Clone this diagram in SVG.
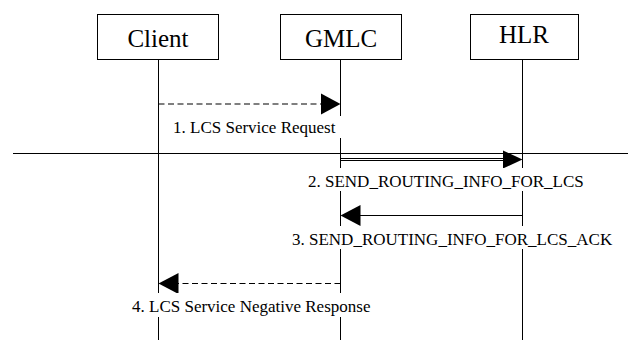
<svg xmlns="http://www.w3.org/2000/svg" width="628" height="340" viewBox="0 0 628 340">
<style>
.box{fill:#fff;stroke:#000;stroke-width:1}
.life{stroke:#000;stroke-width:1;fill:none}
.nt{font-family:"Liberation Serif","Times New Roman",serif;font-size:25px;fill:#000;text-anchor:middle}
.lt{font-family:"Liberation Serif","Times New Roman",serif;font-size:17px;fill:#000}
.bg{fill:#fff;stroke:none}
.msg{stroke:#000;stroke-width:1.2;fill:none}
.dash{stroke-dasharray:6 3.5}
.head{fill:#000;stroke:none}
</style>
<rect width="628" height="340" fill="#fff"/>
<g id="node-client">
<rect class="box" x="97.5" y="14.5" width="121" height="45"/>
<text class="nt" x="158" y="47">Client</text>
<line class="life" x1="158.5" y1="59.5" x2="158.5" y2="340"/>
</g>
<g id="node-gmlc">
<rect class="box" x="280.5" y="14.5" width="121" height="45"/>
<text class="nt" x="341" y="47">GMLC</text>
<line class="life" x1="340.5" y1="59.5" x2="340.5" y2="340"/>
</g>
<g id="node-hlr">
<rect class="box" x="470.5" y="14.5" width="108" height="45"/>
<text class="nt" x="524" y="43">HLR</text>
<line class="life" x1="522.5" y1="59.5" x2="522.5" y2="340"/>
</g>
<g id="divider">
<line x1="13" y1="153.5" x2="628" y2="153.5" stroke="#000" stroke-width="1"/>
</g>
<g id="connectors">
<g id="msg1">
<line class="msg dash" x1="158.5" y1="104" x2="322" y2="104"/>
<polygon class="head" points="321,93.5 340.5,104 321,114.5"/>
<rect class="bg" x="170" y="116" width="172" height="22"/>
<text class="lt" x="173" y="133">1. LCS Service Request</text>
</g>
<g id="msg2">
<line x1="340.5" y1="158.5" x2="504" y2="158.5" stroke="#000" stroke-width="1"/>
<line x1="340.5" y1="160.5" x2="504" y2="160.5" stroke="#000" stroke-width="1"/>
<polygon class="head" points="503,150.5 522.5,159.5 503,168.5"/>
<rect class="bg" x="305" y="168" width="286" height="23"/>
<text class="lt" x="308" y="187">2. SEND_ROUTING_INFO_FOR_LCS</text>
</g>
<g id="msg3">
<line class="msg" x1="522.5" y1="215.5" x2="359" y2="215.5"/>
<polygon class="head" points="360.5,205 340.5,215.5 360.5,226"/>
<rect class="bg" x="289" y="226" width="328" height="23"/>
<text class="lt" x="292" y="245">3. SEND_ROUTING_INFO_FOR_LCS_ACK</text>
</g>
<g id="msg4">
<line class="msg dash" x1="340.5" y1="283.5" x2="177" y2="283.5"/>
<polygon class="head" points="178.5,273 158.5,283.5 178.5,294"/>
<rect class="bg" x="129" y="293" width="250" height="24"/>
<text class="lt" x="132" y="312">4. LCS Service Negative Response</text>
</g>
</g>
</svg>
